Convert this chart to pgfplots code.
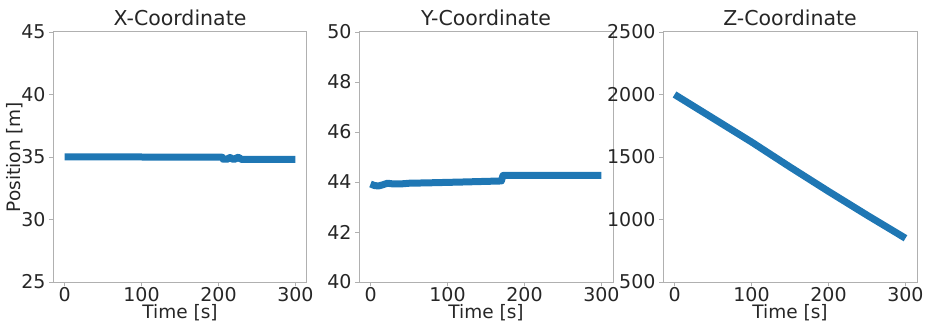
\documentclass[border=0pt]{standalone}
\usepackage{pgfplots}
\pgfplotsset{compat=1.18}
\usepackage{fontspec}
\setmainfont{DejaVu Sans}
\definecolor{tabblue}{HTML}{1F77B4}
\definecolor{txt}{HTML}{262626}
\definecolor{frame}{HTML}{B0B0B0}
\pgfplotsset{
  myax/.style={
    scale only axis, width=254pt, height=250pt,
    xmin=-15, xmax=315, xtick={0,100,200,300},
    axis line style={frame, line width=1pt},
    tick style={frame, line width=0.8pt},
    tick align=outside, major tick length=4pt,
    xtick pos=bottom, ytick pos=left,
    /pgf/number format/assume math mode=true,
    ticklabel style={font=\fontsize{19}{21}\selectfont, text=txt},
    label style={font=\fontsize{18.5}{21}\selectfont, text=txt},
    title style={font=\fontsize{20.5}{23}\selectfont, text=txt, yshift=-3pt},
    xlabel={Time [s]},
    xlabel style={yshift=4pt},
    xticklabel style={yshift=2pt},
    scaled y ticks=false,
    yticklabel style={/pgf/number format/.cd, 1000 sep={}},
  },
  line/.style={tabblue, line width=7pt, line join=round, no markers},
}
\begin{document}
\begin{tikzpicture}
\begin{axis}[myax, at={(53pt,42pt)}, anchor=south west,
  title={X-Coordinate}, ymin=25, ymax=45, ytick={25,30,35,40,45},
  ylabel={Position [m]}, ylabel style={yshift=-9pt}]
\addplot[line] coordinates {(0,35.0) (100,35.0) (205,34.98) (206,34.82) (212,34.82) (214,34.95) (216,34.95) (218,34.82) (222,34.82) (224,34.97) (227,34.95) (229,34.82) (300,34.8)};
\end{axis}
\begin{axis}[myax, at={(359pt,42pt)}, anchor=south west,
  title={Y-Coordinate}, ymin=40, ymax=50, ytick={40,42,44,46,48,50}]
\addplot[line] coordinates {(0,43.92) (5,43.86) (10,43.84) (15,43.88) (22,43.95) (30,43.92) (38,43.92) (50,43.95) (80,43.97) (120,44.0) (168,44.04) (170,44.04) (172,44.26) (300,44.26)};
\end{axis}
\begin{axis}[myax, at={(663pt,42pt)}, anchor=south west,
  title={Z-Coordinate}, ymin=500, ymax=2500, ytick={500,1000,1500,2000,2500}]
\addplot[line] coordinates {(0,2000) (50,1810) (100,1620) (150,1420) (200,1225) (250,1035) (300,850)};
\end{axis}
\pgfresetboundingbox
\path[use as bounding box] (0pt,0pt) rectangle (926pt,324pt);
\end{tikzpicture}
\end{document}
